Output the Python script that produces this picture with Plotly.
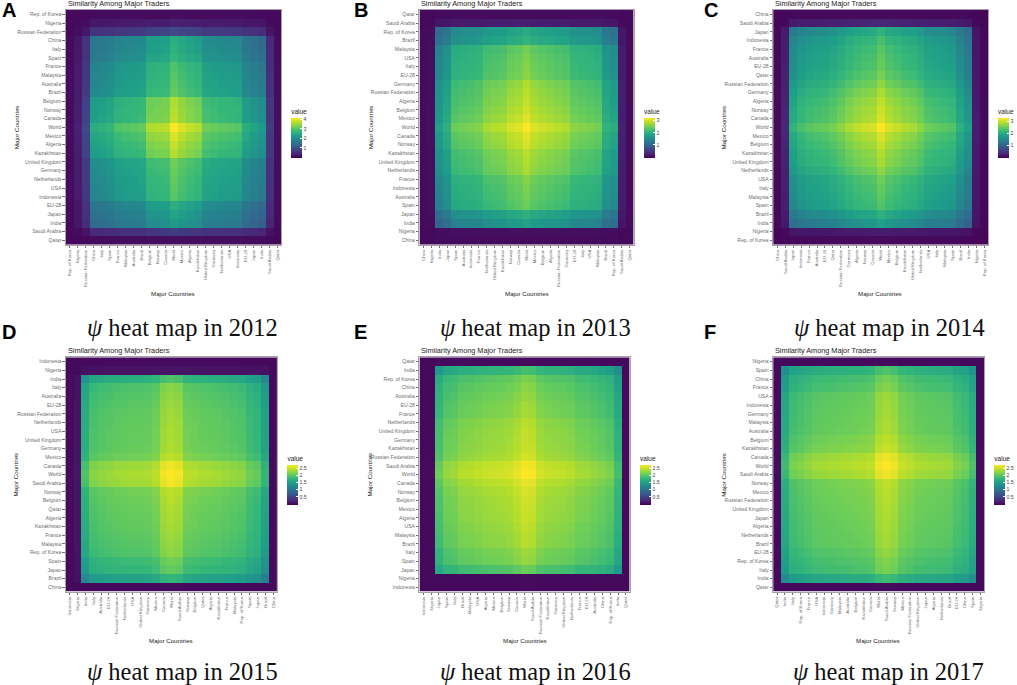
import plotly.graph_objects as go

W, H = 1017, 685

years = [2012, 2013, 2014, 2015, 2016, 2017]
letters = ['A', 'B', 'C', 'D', 'E', 'F']

# row labels, top to bottom
rows_2012 = ['Rep. of Korea', 'Nigeria', 'Russian Federation', 'China', 'Italy', 'Spain', 'France', 'Malaysia', 'Australia', 'Brazil', 'Belgium', 'Norway', 'Canada', 'World', 'Mexico', 'Algeria', 'Kazakhstan', 'United Kingdom', 'Germany', 'Netherlands', 'USA', 'Indonesia', 'EU-28', 'Japan', 'India', 'Saudi Arabia', 'Qatar']
rows_2013 = ['Qatar', 'Saudi Arabia', 'Rep. of Korea', 'Brazil', 'Malaysia', 'USA', 'Italy', 'EU-28', 'Germany', 'Russian Federation', 'Algeria', 'Belgium', 'Mexico', 'World', 'Canada', 'Norway', 'Kazakhstan', 'United Kingdom', 'Netherlands', 'France', 'Indonesia', 'Australia', 'Spain', 'Japan', 'India', 'Nigeria', 'China']
rows_2014 = ['China', 'Saudi Arabia', 'Japan', 'Indonesia', 'France', 'Australia', 'EU-28', 'Qatar', 'Russian Federation', 'Germany', 'Algeria', 'Norway', 'Canada', 'World', 'Mexico', 'Belgium', 'Kazakhstan', 'United Kingdom', 'Netherlands', 'USA', 'Italy', 'Malaysia', 'Spain', 'Brazil', 'India', 'Nigeria', 'Rep. of Korea']
rows_2015 = ['Indonesia', 'Nigeria', 'India', 'Italy', 'Australia', 'EU-28', 'Russian Federation', 'Netherlands', 'USA', 'United Kingdom', 'Germany', 'Mexico', 'Canada', 'World', 'Saudi Arabia', 'Norway', 'Belgium', 'Qatar', 'Algeria', 'Kazakhstan', 'France', 'Malaysia', 'Rep. of Korea', 'Spain', 'Japan', 'Brazil', 'China']
rows_2016 = ['Qatar', 'India', 'Rep. of Korea', 'China', 'Australia', 'EU-28', 'France', 'Netherlands', 'United Kingdom', 'Germany', 'Kazakhstan', 'Russian Federation', 'Saudi Arabia', 'World', 'Canada', 'Norway', 'Belgium', 'Mexico', 'Algeria', 'USA', 'Malaysia', 'Brazil', 'Italy', 'Spain', 'Japan', 'Nigeria', 'Indonesia']
rows_2017 = ['Nigeria', 'Spain', 'China', 'France', 'USA', 'Indonesia', 'Germany', 'Malaysia', 'Australia', 'Belgium', 'Kazakhstan', 'Canada', 'World', 'Saudi Arabia', 'Norway', 'Mexico', 'Russian Federation', 'United Kingdom', 'Japan', 'Algeria', 'Netherlands', 'Brazil', 'EU-28', 'Rep. of Korea', 'Italy', 'India', 'Qatar']

# column labels, left to right
cols_2012 = rows_2012
cols_2013 = rows_2013[::-1]
cols_2014 = rows_2014
cols_2015 = rows_2015
cols_2016 = rows_2016[::-1]
cols_2017 = ['Qatar', 'India', 'Italy', 'Rep. of Korea', 'France', 'USA', 'Indonesia', 'Germany', 'Malaysia', 'Australia', 'Belgium', 'Kazakhstan', 'Canada', 'World', 'Saudi Arabia', 'Norway', 'Mexico', 'Russian Federation', 'United Kingdom', 'Japan', 'Algeria', 'Netherlands', 'Brazil', 'EU-28', 'China', 'Spain', 'Nigeria']

# level of each row, top to bottom
level_2012 = [.03, .15, .42, 1.25, 1.28, 1.33, 1.45, 1.48, 1.5, 1.53, 1.78, 1.8, 1.82, 2.03, 1.92, 1.85, 1.8, 1.58, 1.55, 1.52, 1.5, 1.48, 1.25, 1.17, 1.1, .33, .04]
level_2013 = [.02, .12, 1.08, 1.15, 1.4, 1.43, 1.45, 1.47, 1.57, 1.6, 1.63, 1.66, 1.7, 1.79, 1.71, 1.68, 1.6, 1.58, 1.55, 1.45, 1.42, 1.4, 1.37, 1.12, 1.0, .04, .02]
level_2014 = [.02, .17, 1.15, 1.27, 1.33, 1.36, 1.38, 1.43, 1.5, 1.58, 1.64, 1.68, 1.7, 1.82, 1.71, 1.66, 1.6, 1.57, 1.5, 1.4, 1.37, 1.34, 1.31, 1.14, 1.0, .12, .02]
level_2015 = [.01, .06, 1.18, 1.35, 1.38, 1.4, 1.42, 1.43, 1.44, 1.44, 1.45, 1.49, 1.62, 1.66, 1.63, 1.49, 1.47, 1.45, 1.44, 1.43, 1.41, 1.39, 1.37, 1.29, 1.25, 1.08, .01]
level_2016 = [.01, 1.15, 1.32, 1.36, 1.39, 1.42, 1.43, 1.48, 1.5, 1.51, 1.52, 1.55, 1.64, 1.66, 1.6, 1.56, 1.54, 1.53, 1.52, 1.5, 1.48, 1.47, 1.41, 1.39, 1.27, .01, .01]
level_2017 = [.01, 1.18, 1.3, 1.34, 1.41, 1.42, 1.43, 1.44, 1.45, 1.49, 1.52, 1.62, 1.66, 1.62, 1.5, 1.48, 1.47, 1.46, 1.45, 1.44, 1.43, 1.42, 1.38, 1.34, 1.31, 1.13, .01]

# colour bar ends and ticks
bar_min = [-0.08, -0.07, -0.05, -0.06, -0.06, -0.06]
bar_max = [4.13, 3.2, 3.3, 2.75, 2.75, 2.75]
bar_ticks = [[1, 2, 3, 4], [1, 2, 3], [1, 2, 3], [0.5, 1, 1.5, 2, 2.5], [0.5, 1, 1.5, 2, 2.5], [0.5, 1, 1.5, 2, 2.5]]

all_rows = [rows_2012, rows_2013, rows_2014, rows_2015, rows_2016, rows_2017]
all_cols = [cols_2012, cols_2013, cols_2014, cols_2015, cols_2016, cols_2017]
all_levels = [level_2012, level_2013, level_2014, level_2015, level_2016, level_2017]
reversed_cols = [False, True, False, False, True, True]

# pixel boxes of the panels: left, right, top, bottom
boxes = [(66, 282, 10, 244.5), (420.3, 635, 10, 244.5), (774.7, 990.3, 10, 244.5),
         (66, 277.7, 357.3, 591.7), (420.3, 631, 357.3, 591.7), (774.7, 986.3, 357.3, 591.7)]
bar_x = [291.7, 645.3, 1000, 288, 641.3, 996.3]
bar_top = [106, 106, 106, 452.7, 452.7, 452.7]
ytitle_x = [16, 370.7, 724.7, 16, 370.7, 724.7]
xtitle_x = [173.7, 528, 882, 171.7, 526, 880]
caption_x = [183, 537, 891, 183, 537, 890]
caption_y = [327, 327, 327, 671, 671, 671]
letter_x = [0, 353, 703, 0, 353, 703]

SANS = 'Liberation Sans'
GREY = '#6e6e6e'


def px(x):
    return x / W


def py(y):
    return 1 - y / H


fig = go.Figure()
notes = []


def note(x, y, text, size, color='#222222', family=SANS, angle=0, xanchor='center'):
    notes.append(dict(x=px(x), y=py(y), xref='paper', yref='paper', text=text, showarrow=False,
                      font=dict(size=size, color=color, family=family), textangle=angle,
                      xanchor=xanchor, yanchor='middle'))


axes = {}
for i in range(6):
    left, right, top, bottom = boxes[i]
    levels = all_levels[i]
    col_levels = levels[::-1] if reversed_cols[i] else levels
    z = [[a * b for b in col_levels] for a in levels]
    n = '' if i == 0 else str(i + 1)
    fig.add_trace(go.Heatmap(
        z=z, x=all_cols[i], y=all_rows[i], xaxis='x' + n, yaxis='y' + n,
        colorscale='Viridis', zmin=bar_min[i], zmax=bar_max[i],
        colorbar=dict(
            title=dict(text='value', side='top', font=dict(size=6.5, color='#222222', family=SANS)),
            x=px(bar_x[i]), xanchor='left', xpad=0,
            y=py(bar_top[i]), yanchor='top', ypad=0,
            thickness=10.5, lenmode='pixels', len=52, outlinewidth=0,
            tickvals=bar_ticks[i], ticks='inside', ticklen=2, tickcolor='white', tickwidth=0.5,
            tickfont=dict(size=5.2, color='#444444', family=SANS),
        ),
    ))
    line = dict(showline=True, mirror=True, linecolor='#A8A0A8', linewidth=1,
                ticks='outside', ticklen=2.5, tickwidth=0.6, tickcolor=GREY)
    axes['xaxis' + n] = dict(domain=[px(left), px(right)], anchor='y' + n, type='category',
                             tickmode='array', tickvals=all_cols[i], ticktext=all_cols[i],
                             tickangle=-90, tickfont=dict(size=4.3, color=GREY, family=SANS), **line)
    axes['yaxis' + n] = dict(domain=[py(bottom), py(top)], anchor='x' + n, type='category',
                             tickmode='array', tickvals=all_rows[i], ticktext=all_rows[i],
                             autorange='reversed', tickfont=dict(size=5.1, color=GREY, family=SANS), **line)

    note(left, top - 7, 'Similarity Among Major Traders', 7.3, xanchor='left')
    note(xtitle_x[i], bottom + 49, 'Major Countries', 6.2)
    note(ytitle_x[i], (top + bottom) / 2, 'Major Countries', 6.2, angle=-90)
    note(caption_x[i], caption_y[i], '<i>ψ</i> heat map in %d' % years[i], 24.5, color='#111111', family='Liberation Serif')
    note(letter_x[i], 10 if i < 3 else 332, '<b>%s</b>' % letters[i], 20, color='#000000', xanchor='left')

fig.update_layout(width=W, height=H, margin=dict(l=0, r=0, t=0, b=0), showlegend=False,
                  paper_bgcolor='white', plot_bgcolor='white', annotations=notes, **axes)

# page margin off so the figure fills the window
fig.write_html("out.html", config={'displayModeBar': False},
               post_script="document.body.style.margin='0';document.body.style.overflow='hidden';")
